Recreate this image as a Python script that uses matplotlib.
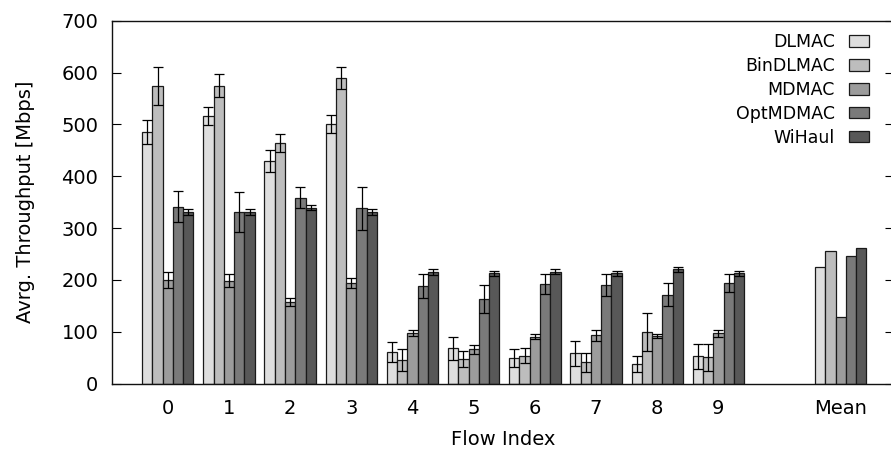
import numpy as np
import matplotlib
matplotlib.use("Agg")
import matplotlib.pyplot as plt

# data (Mbps)
flows = ["0", "1", "2", "3", "4", "5", "6", "7", "8", "9", "Mean"]
methods = ["DLMAC", "BinDLMAC", "MDMAC", "OptMDMAC", "WiHaul"]

dlmac = [485, 516, 429, 501, 61, 68, 50, 59, 38, 53, 226]
dlmac_err = [23, 18, 21, 18, 20, 22, 17, 24, 15, 24]
bindlmac = [574, 575, 464, 589, 46, 48, 54, 41, 100, 51, 255]
bindlmac_err = [36, 23, 17, 21, 21, 15, 15, 18, 36, 26]
mdmac = [200, 199, 158, 194, 98, 66, 91, 93, 92, 97, 129]
mdmac_err = [16, 12, 8, 10, 6, 8, 4, 10, 4, 7]
optmdmac = [341, 331, 359, 338, 188, 164, 192, 190, 172, 194, 247]
optmdmac_err = [30, 39, 21, 41, 23, 27, 19, 21, 23, 17]
wihaul = [331, 331, 339, 331, 216, 213, 216, 213, 221, 213, 262]
wihaul_err = [5, 5, 5, 5, 6, 5, 5, 5, 5, 5]

values = [dlmac, bindlmac, mdmac, optmdmac, wihaul]
errors = [dlmac_err, bindlmac_err, mdmac_err, optmdmac_err, wihaul_err]
colors = ["#dedede", "#bdbdbd", "#9c9c9c", "#7a7a7a", "#585858"]

FS = 14          # axis texts
LEG_FS = 12.5    # key texts
plt.rcParams["font.family"] = "DejaVu Sans"
plt.rcParams["font.size"] = FS

fig = plt.figure(figsize=(8.91, 4.55), dpi=100)
ax = fig.add_axes([112.3 / 891, 1 - 383.7 / 455, (894 - 112.3) / 891, (383.7 - 20.7) / 455])

pos = np.array([0, 1, 2, 3, 4, 5, 6, 7, 8, 9, 11], dtype=float)
w = 0.168

for i, (name, vals, errs, c) in enumerate(zip(methods, values, errors, colors)):
    x = pos + (i - 2) * w
    ax.bar(x, vals, width=w, color=c, edgecolor="#1a1a1a", linewidth=0.9, label=name, zorder=2)
    # error bars only for the individual flows, not for the mean
    ax.errorbar(x[:10], vals[:10], yerr=errs, fmt="none", ecolor="black",
                elinewidth=0.9, capsize=3.6, capthick=0.9, zorder=3)

ax.set_xlim(-0.907, 11.87)
ax.set_ylim(0, 700)
ax.set_xticks(pos)
ax.set_xticklabels(flows)
ax.set_yticks(range(0, 701, 100))
ax.tick_params(axis="x", length=0, pad=11)
ax.tick_params(axis="y", direction="in", length=6.5, width=0.8, right=True, pad=10)
for s in ["left", "top", "bottom"]:
    ax.spines[s].set_linewidth(1.0)
    ax.spines[s].set_color("#111111")
ax.spines["right"].set_visible(False)

ax.set_xlabel("Flow Index", labelpad=9)
ax.set_ylabel("Avrg. Throughput [Mbps]", labelpad=19)

ax.legend(loc="upper right", bbox_to_anchor=(869.3 / 891, 1 - 33 / 455),
          bbox_transform=fig.transFigure, frameon=False, markerfirst=False,
          handlelength=1.18, handleheight=0.65, handletextpad=0.8,
          labelspacing=0.34, borderpad=0, borderaxespad=0, fontsize=LEG_FS)

fig.savefig("out.png", dpi=100)
